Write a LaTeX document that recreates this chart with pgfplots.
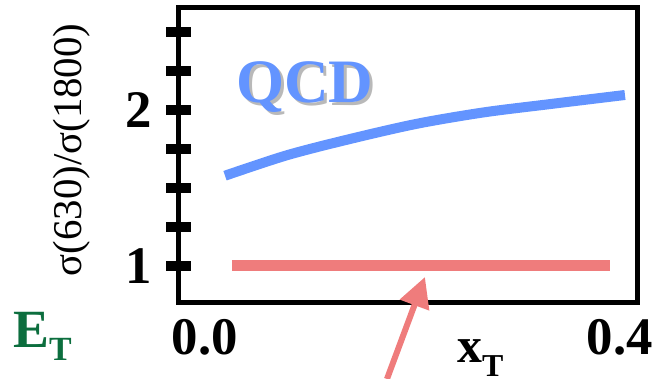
\documentclass[border=0pt]{standalone}
\usepackage{fontspec}
\setmainfont{Liberation Serif}
\usepackage{pgfplots}
\pgfplotsset{compat=1.18}
\usetikzlibrary{arrows.meta}
\definecolor{qcdblue}{RGB}{99,148,255}
\definecolor{flatred}{RGB}{239,124,124}
\definecolor{etgreen}{RGB}{12,110,62}
\definecolor{shadowgray}{RGB}{185,185,185}
\begin{document}
\begin{tikzpicture}
\begin{axis}[
  scale only axis,
  width=458bp, height=294bp,
  xmin=-0.02506, xmax=0.4164,
  ymin=0.7692, ymax=2.6538,
  axis line style={line width=5bp, black},
  clip=false,
  xtick={0,0.4}, xticklabels={0.0,0.4},
  xtick style={draw=none},
  ytick={1,1.25,1.5,1.75,2,2.25,2.5},
  yticklabels={1,,,,2,,},
  ytick pos=left,
  ytick style={line width=10bp, black},
  major tick length=25bp,
  tick align=center,
  /pgf/number format/assume math mode=true,
  ticklabel style={font=\fontsize{53}{53}\selectfont\bfseries, inner sep=0pt},
  xticklabel style={anchor=north, yshift=-5bp},
  yticklabel style={anchor=east, xshift=-14bp},
  ylabel={σ(630)/σ(1800)},
  ylabel style={font=\fontsize{41}{41}\selectfont, at={([xshift=-107bp]rel axis cs:0,0.517)}, anchor=center, inner sep=0pt},
]
\addplot[qcdblue, line width=10bp, smooth] coordinates {
  (0.0193,1.5788) (0.0788,1.7096) (0.1398,1.8141) (0.2041,1.9115) (0.2680,1.9840) (0.3294,2.0353) (0.4048,2.0962)
};
\addplot[flatred, line width=11bp] coordinates {(0.026,1.0) (0.390,1.0)};
\draw[flatred, line width=6bp, -{Triangle[width=30bp,length=30bp]}] (axis cs:0.1754,0.2756) -- (axis cs:0.2120,0.9295);
\node[anchor=base west, inner sep=0pt, text=shadowgray, font=\fontsize{62}{62}\selectfont\bfseries] at ([shift={(60bp,-97bp)}]rel axis cs:0,1) {QCD};
\node[anchor=base west, inner sep=0pt, text=qcdblue, font=\fontsize{62}{62}\selectfont\bfseries] at ([shift={(57bp,-94bp)}]rel axis cs:0,1) {QCD};
\node[anchor=base west, inner sep=0pt, text=etgreen, font=\bfseries] at ([shift={(-166bp,-45bp)}]rel axis cs:0,0) {\fontsize{54}{54}\selectfont E\raisebox{-13bp}{\fontsize{34}{34}\selectfont T}};
\node[anchor=base west, inner sep=0pt, font=\bfseries] at ([shift={(278bp,-60bp)}]rel axis cs:0,0) {\fontsize{50}{50}\selectfont x\raisebox{-14bp}{\fontsize{32}{32}\selectfont T}};
\coordinate (SW) at (rel axis cs:0,0);
\coordinate (NE) at (rel axis cs:1,1);
\end{axis}
\pgfresetboundingbox
\path ([shift={(-179bp,-77bp)}]SW) rectangle ([shift={(30bp,8bp)}]NE);
\end{tikzpicture}
\end{document}
